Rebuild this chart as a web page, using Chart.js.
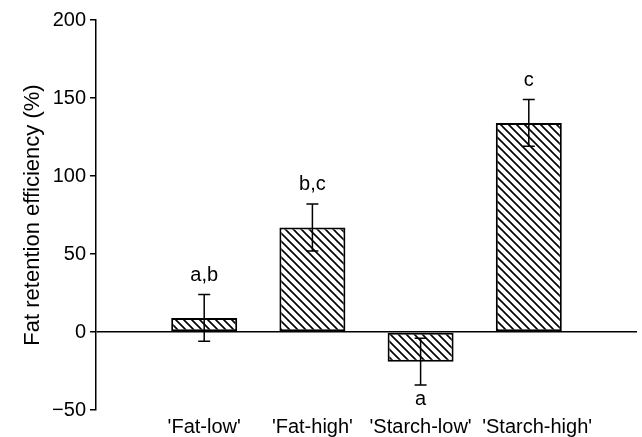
<!DOCTYPE html>
<html>
<head>
<meta charset="utf-8">
<script src="https://cdn.jsdelivr.net/npm/chart.js@4"></script>
<style>
	html, body { margin: 0; padding: 0; background: #fff; }
	#wrap { width: 642px; height: 437px; }
</style>
</head>
<body>
<div id="wrap"><canvas id="c"></canvas></div>
<script>
const categories = ["'Fat-low'", "'Fat-high'", "'Starch-low'", "\u00a0\u00a0\u00a0'Starch-high'"];
const positions = [1, 2, 3, 4];
const means = [9, 67, -19, 134];
const sems = [15, 15, 15, 15];
const letters = ['a,b', 'b,c', 'a', 'c'];
const yTicks = [-50, 0, 50, 100, 150, 200];

const FONT = 'Liberation Sans, Arial, Helvetica, sans-serif';

function hatch() {
	const c = document.createElement('canvas');
	c.width = c.height = 8;
	const g = c.getContext('2d');
	g.fillStyle = '#fff'; g.fillRect(0, 0, 8, 8);
	g.strokeStyle = '#000'; g.lineWidth = 1.6;
	g.beginPath();
	g.moveTo(-1, -1); g.lineTo(9, 9);
	g.moveTo(-1, 7); g.lineTo(1, 9);
	g.moveTo(7, -1); g.lineTo(9, 1);
	g.stroke();
	return g.createPattern(c, 'repeat');
}

// error bars + significance letters
const errorBars = {
	id: 'errorBars',
	afterDatasetsDraw(chart) {
		const { ctx, scales: { x, y } } = chart;
		ctx.save();
		ctx.strokeStyle = '#000'; ctx.lineWidth = 1.5;
		ctx.fillStyle = '#000';
		ctx.font = `20px ${FONT}`;
		ctx.textAlign = 'center';
		ctx.textBaseline = 'alphabetic';
		means.forEach((m, i) => {
			const px = x.getPixelForValue(positions[i]);
			const hi = y.getPixelForValue(m + sems[i]);
			const lo = y.getPixelForValue(m - sems[i]);
			ctx.beginPath();
			ctx.moveTo(px, hi); ctx.lineTo(px, lo);
			ctx.moveTo(px - 6, hi); ctx.lineTo(px + 6, hi);
			ctx.moveTo(px - 6, lo); ctx.lineTo(px + 6, lo);
			ctx.stroke();
			if (m >= 0) ctx.fillText(letters[i], px, hi - 14);
			else ctx.fillText(letters[i], px, lo + 20);
		});
		ctx.restore();
	}
};

new Chart(document.getElementById('c'), {
	type: 'bar',
	data: {
		datasets: [{
			data: positions.map((p, i) => ({ x: p, y: means[i] })),
			backgroundColor: hatch(),
			borderColor: '#000',
			borderWidth: 2,
			borderSkipped: false,
			categoryPercentage: 1,
			barPercentage: 0.61
		}]
	},
	options: {
		responsive: true, maintainAspectRatio: false,
		animation: { duration: 0 },
		layout: { padding: { top: 20, right: 4, left: 0, bottom: 0 } },
		plugins: { legend: { display: false }, tooltip: { enabled: false } },
		scales: {
			x: {
				type: 'linear', min: 0, max: 5, offset: false,
				grid: { display: false, drawTicks: false },
				border: { display: false },
				afterFit: s => { s.height = 27; },
				afterBuildTicks: s => { s.ticks = [0, ...positions, 5].map(v => ({ value: v })); },
				ticks: {
					autoSkip: false, maxRotation: 0, padding: 5, color: '#000',
					font: { family: FONT, size: 20 },
					callback: v => categories[positions.indexOf(v)] ?? ''
				}
			},
			y: {
				min: -50, max: 200,
				afterBuildTicks: s => { s.ticks = yTicks.map(v => ({ value: v })); },
				afterFit: s => { s.width = 96; },
				border: { display: true, color: '#000', width: 1.5 },
				grid: {
					drawOnChartArea: true, drawTicks: true, tickLength: 6,
					color: c => c.tick && c.tick.value === 0 ? '#000' : 'rgba(0,0,0,0)',
					tickColor: '#000', lineWidth: 1.5
				},
				ticks: {
					padding: 4, color: '#000',
					font: { family: FONT, size: 20 },
					callback: v => v < 0 ? '\u2212' + Math.abs(v) : v
				},
				title: {
					display: true, text: 'Fat retention efficiency (%)', color: '#000',
					font: { family: FONT, size: 22 },
					padding: { top: 20, bottom: 0 }
				}
			}
		}
	},
	plugins: [errorBars]
});
</script>
</body>
</html>
